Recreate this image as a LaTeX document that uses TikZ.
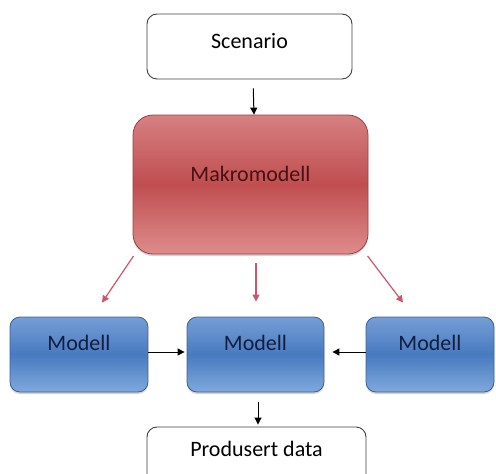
\documentclass[tikz,border=0pt]{standalone}
\usepackage{fontspec}
\setmainfont{Carlito}
\usetikzlibrary{arrows.meta,shadows}
\definecolor{redtop}{RGB}{214,128,130}
\definecolor{redmid}{RGB}{192,78,80}
\definecolor{redbot}{RGB}{222,140,140}
\definecolor{redline}{RGB}{165,60,62}
\definecolor{bluetop}{RGB}{118,158,214}
\definecolor{bluemid}{RGB}{72,122,192}
\definecolor{bluebot}{RGB}{128,168,220}
\definecolor{blueline}{RGB}{62,96,150}
\definecolor{redarrow}{RGB}{205,85,105}
\definecolor{maktext}{RGB}{70,18,18}
\definecolor{modtext}{RGB}{18,30,62}
\tikzset{
  whitebox/.style={draw=black!75, line width=0.9pt, rounded corners=10pt, fill=white, inner sep=0pt},
  redbox/.style={draw=redline, line width=0.8pt, rounded corners=20pt, top color=redtop, bottom color=redbot, middle color=redmid, inner sep=0pt, drop shadow={shadow xshift=0pt, shadow yshift=-2pt, opacity=0.35}},
  bluebox/.style={draw=blueline, line width=0.8pt, rounded corners=10pt, top color=bluetop, bottom color=bluebot, middle color=bluemid, inner sep=0pt, drop shadow={shadow xshift=0pt, shadow yshift=-2pt, opacity=0.35}},
  blackarr/.style={draw=black, line width=1pt, -{Triangle[length=7pt,width=7pt]}},
  redarr/.style={draw=redarrow, line width=1.2pt, -{Triangle[length=7pt,width=7pt]}},
  txt/.style={font=\fontsize{22}{26}\selectfont}
}
\begin{document}
\begin{tikzpicture}[x=1pt,y=-1pt]
\useasboundingbox (0,0) rectangle (496,474);
\node[whitebox, minimum width=205pt, minimum height=65pt,
  label={[txt, text=black, yshift=5pt]center:Scenario}] (scen) at (249.5,46.5) {};
\node[redbox, minimum width=235pt, minimum height=139pt,
  label={[txt, text=maktext, yshift=11pt]center:Makromodell}] (makro) at (250.5,184.5) {};
\node[bluebox, minimum width=138pt, minimum height=75pt,
  label={[txt, text=modtext, yshift=12pt]center:Modell}] (mL) at (79,354.5) {};
\node[bluebox, minimum width=137pt, minimum height=75pt,
  label={[txt, text=modtext, yshift=12pt]center:Modell}] (mM) at (255.5,354.5) {};
\node[bluebox, minimum width=128pt, minimum height=75pt,
  label={[txt, text=modtext, yshift=12pt]center:Modell}] (mR) at (430,354.5) {};
\node[whitebox, minimum width=219pt, minimum height=60pt,
  label={[txt, text=black, yshift=8pt]center:Produsert data}] (prod) at (256.5,457) {};
% arrows
\draw[blackarr, shorten <=9pt] ([xshift=3.5pt]scen.south) -- ([xshift=3.5pt]makro.north);
\draw[redarr, shorten <=2pt] ([xshift=2pt]makro.south west) -- ([xshift=23pt,yshift=14pt]mL.north);
\draw[redarr, shorten <=9pt] ([xshift=0.5pt]mM.north |- makro.south) -- ([xshift=0.5pt,yshift=15pt]mM.north);
\draw[redarr, shorten <=2pt] ([xshift=-2pt]makro.south east) -- ([xshift=-27pt,yshift=14pt]mR.north);
\draw[blackarr, shorten >=2pt] ([yshift=2.5pt]mL.east) -- ([yshift=2.5pt]mM.west);
\draw[blackarr, shorten >=8pt] ([yshift=2.5pt]mR.west) -- ([yshift=2.5pt]mM.east);
\draw[blackarr, shorten <=10pt, shorten >=2pt] ([xshift=2.5pt]mM.south) -- ([xshift=1.5pt]prod.north);
\end{tikzpicture}
\end{document}
